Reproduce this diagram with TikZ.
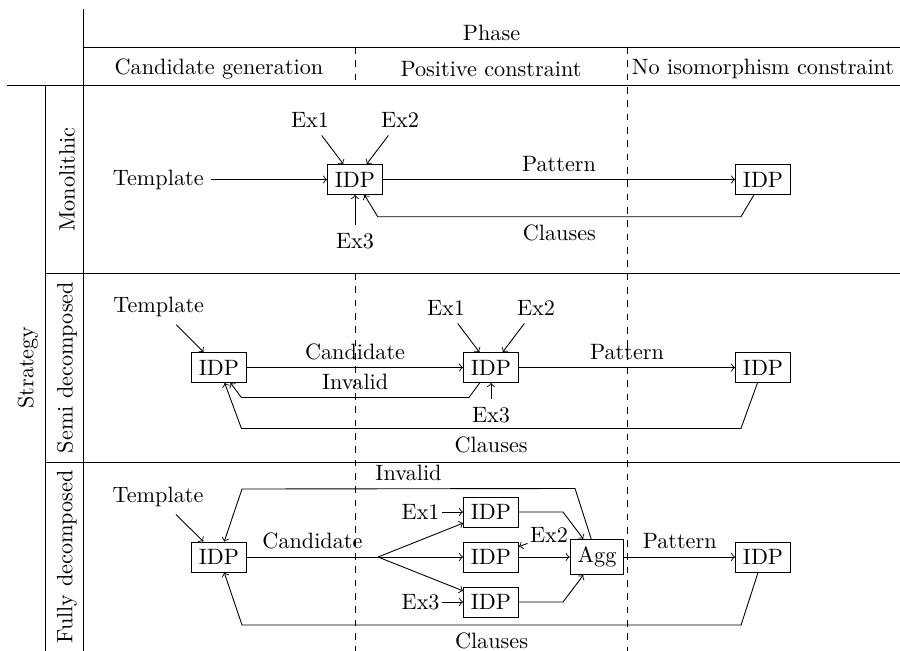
\documentclass[tikz,border=0pt]{standalone}
\usepackage{tikz}
\usetikzlibrary{positioning}
\usetikzlibrary{calc}
\tikzset{
	proc/.style={draw},
	phaseline/.style={dashed},
	tight/.style={inner sep=1pt}
}

\begin{document}
\begin{tikzpicture}
		\useasboundingbox (0,0) rectangle (14.24,-10.30);

		% Table
		\draw (1.313,-0.142) -- (1.313,-10.30);
		\draw (0.712,-1.345) -- (0.712,-10.30);
		\draw (1.313,-0.744) -- (14.24,-0.744);
		\draw (0.11,-1.345) -- (14.24,-1.345);
		\draw (0.712,-4.32) -- (14.24,-4.32);
		\draw (0.712,-7.31) -- (14.24,-7.31);
		\draw[phaseline] (5.617,-0.744) -- (5.617,-1.345)
		(5.617,-4.32) -- (5.617,-10.30);
		\draw[phaseline] (9.921,-0.744) -- (9.921,-10.30);

		% Headers
		\node (phase) at (7.777,-0.514) {Phase};
		\node (candgen) at (3.465,-1.09) {Candidate generation};
		\node (poscon) at (7.769,-1.09) {Positive constraint};
		\node (noiso) at (12.073,-1.09) {No isomorphism constraint};
		\node[rotate=90] (strategy) at (0.44,-5.815) {Strategy};
		\node[rotate=90] (mono) at (1.06,-2.84) {Monolithic};
		\node[rotate=90] (semi) at (1.06,-5.815) {Semi decomposed};
		\node[rotate=90] (fully) at (1.06,-8.81) {Fully decomposed};

		% Monolithic
		\node[proc] (idpA) at (5.617,-2.84) {IDP};
		\node[proc] (idpB) at (12.073,-2.84) {IDP};
		\node[left=1.83cm of idpA] (tmplA) {Template};
		\node (exA1) at (4.905,-1.899) {Ex1};
		\node (exA2) at (6.33,-1.899) {Ex2};
		\node (exA3) at (5.617,-3.81) {Ex3};

		\draw[->] (tmplA) -- (idpA);
		\draw[->] (exA1) -- (idpA);
		\draw[->] (exA2) -- (idpA);
		\draw[->] (exA3) -- (idpA);
		\draw[->] (idpA) -- (idpB)
		node[midway,above]{Pattern};
		\draw[->] (idpB) -- ($(idpB)+(-0.35,-0.59)$)
		-- ($(idpA)+(0.36,-0.59)$) node[midway,below]{Clauses}
		-- (idpA);

		% Semi decomposed
		\node[proc] (idpC) at (3.465,-5.815) {IDP};
		\node[proc] (idpD) at (7.769,-5.815) {IDP};
		\node[proc] (idpE) at (12.073,-5.815) {IDP};
		\node (tmplB) at (2.51,-4.858) {Template};
		\node (exB1) at (7.057,-4.873) {Ex1};
		\node (exB2) at (8.481,-4.873) {Ex2};
		\node (exB3) at (7.769,-6.567) {Ex3};

		\draw[->] (tmplB) -- (idpC);
		\draw[->] (exB1) -- (idpD);
		\draw[->] (exB2) -- (idpD);
		\draw[->] (exB3) -- (idpD);
		\draw[->] (idpC) -- (idpD)
		node[midway,above]{Candidate};
		\draw[->] (idpD) -- ($(idpD)+(-0.35,-0.475)$)
		-- ($(idpC)+(0.355,-0.475)$) node[midway,above]{Invalid}
		-- (idpC);
		\draw[->] (idpD) -- (idpE)
		node[midway,above]{Pattern};
		\draw[->] (idpE) -- ($(idpE)+(-0.35,-0.965)$)
		-- ($(idpC)+(0.355,-0.965)$) node[midway,below]{Clauses}
		-- (idpC);

		% Fully decomposed
		\node[proc] (idpF) at (3.465,-8.813) {IDP};
		\node[proc] (idpG) at (7.769,-8.101) {IDP};
		\node[proc] (idpH) at (7.769,-8.813) {IDP};
		\node[proc] (idpI) at (7.769,-9.525) {IDP};
		\node[proc] (agg) at (9.446,-8.813) {Agg};
		\node[proc] (idpJ) at (12.073,-8.813) {IDP};
		\node (tmplC) at (2.50,-7.86) {Template};
		\node[tight,left=0.33cm of idpG] (exC1) {Ex1};
		\node[tight] (exC2) at (8.687,-8.47) {Ex2};
		\node[tight,left=0.33cm of idpI] (exC3) {Ex3};
		\coordinate (split) at (5.981,-8.813);
		\coordinate (bendG) at (8.908,-8.101);
		\coordinate (bendI) at (8.908,-9.525);

		\draw[->] (tmplC) -- (idpF);
		\draw (idpF) -- (split)
		node[midway,above]{Candidate};
		\draw[->] (split) -- (idpG);
		\draw[->] (split) -- (idpH);
		\draw[->] (split) -- (idpI);
		\draw[->] (exC1) -- (idpG);
		\draw[->] (exC2) -- (idpH);
		\draw[->] (exC3) -- (idpI);
		\draw[->] (idpG) -- (bendG) -- (agg);
		\draw[->] (idpH) -- (agg);
		\draw[->] (idpI) -- (bendI) -- (agg);
		\draw[->] (agg) -- ($(agg)+(-0.348,1.084)$)
		-- ($(idpF)+(0.364,1.076)$) node[midway,above]{Invalid}
		-- (idpF);
		\draw[->] (agg) -- (idpJ)
		node[midway,above]{Pattern};
		\draw[->] (idpJ) -- ($(idpJ)+(-0.348,-1.076)$)
		-- ($(idpF)+(0.364,-1.076)$) node[midway,below]{Clauses}
		-- (idpF);
	\end{tikzpicture}
\end{document}
